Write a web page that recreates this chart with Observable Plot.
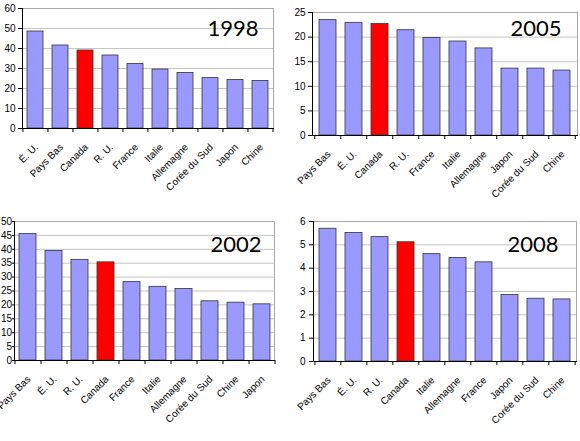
<!DOCTYPE html>
<html>
<head>
<meta charset="utf-8">
<script src="https://cdn.jsdelivr.net/npm/d3@7"></script>
<script src="https://cdn.jsdelivr.net/npm/@observablehq/plot@0.6"></script>
<style>
  html, body { margin: 0; padding: 0; background: #fff; }
  #grid { position: relative; width: 580px; height: 441px; overflow: hidden; }
  #grid > div { position: absolute; }
  svg { display: block; }
</style>
</head>
<body>
<div id="grid">
  <div id="p1998" style="left:0;top:0"></div>
  <div id="p2005" style="left:290px;top:0"></div>
  <div id="p2002" style="left:0;top:215px"></div>
  <div id="p2008" style="left:290px;top:215px"></div>
</div>
<script>
// ---- Data ----
const countries1998 = ["É. U.", "Pays Bas", "Canada", "R. U.", "France", "Italie", "Allemagne", "Corée du Sud", "Japon", "Chine"];
const values1998    = [48.5, 41.5, 39.0, 36.5, 32.3, 29.5, 27.8, 25.2, 24.3, 23.8];

const countries2005 = ["Pays Bas", "É. U.", "Canada", "R. U.", "France", "Italie", "Allemagne", "Japon", "Corée du Sud", "Chine"];
const values2005    = [23.45, 22.9, 22.65, 21.4, 19.8, 19.1, 17.7, 13.6, 13.6, 13.2];

const countries2002 = ["Pays Bas", "É. U.", "R. U.", "Canada", "France", "Italie", "Allemagne", "Corée du Sud", "Chine", "Japon"];
const values2002    = [45.5, 39.4, 36.2, 35.3, 28.2, 26.5, 25.7, 21.3, 20.8, 20.2];

const countries2008 = ["Pays Bas", "É. U.", "R. U.", "Canada", "Italie", "Allemagne", "France", "Japon", "Corée du Sud", "Chine"];
const values2008    = [5.69, 5.51, 5.33, 5.11, 4.6, 4.44, 4.25, 2.85, 2.69, 2.66];

const yTicks1998 = [0, 10, 20, 30, 40, 50, 60];
const yTicks2005 = [0, 5, 10, 15, 20, 25];
const yTicks2002 = [0, 5, 10, 15, 20, 25, 30, 35, 40, 45, 50];
const yTicks2008 = [0, 1, 2, 3, 4, 5, 6];

const highlight = "Canada";

// Panel geometry (pixels), one entry per small chart.
const panels = [
  { id: "p1998", year: "1998", countries: countries1998, values: values1998, ticks: yTicks1998,
    width: 290, height: 215, ml: 22, mr: 17, mt: 8, mb: 87, tdx: -15, tdy: 20, ts: 4, tp: 3 },
  { id: "p2005", year: "2005", countries: countries2005, values: values2005, ticks: yTicks2005,
    width: 290, height: 215, ml: 22, mr: 3, mt: 12, mb: 80, tdx: -16, tdy: 16, ts: 4, tp: 3 },
  { id: "p2002", year: "2002", countries: countries2002, values: values2002, ticks: yTicks2002,
    width: 290, height: 226, ml: 14, mr: 16, mt: 6, mb: 81, tdx: -13, tdy: 23, ts: 2, tp: 0.5 },
  { id: "p2008", year: "2008", countries: countries2008, values: values2008, ticks: yTicks2008,
    width: 290, height: 226, ml: 23, mr: 4, mt: 6, mb: 80, tdx: -18, tdy: 23, ts: 4, tp: 4 },
];

panels.forEach(function (p) {
  const rows = p.countries.map(function (c, i) { return { country: c, value: p.values[i] }; });
  const yMax = p.ticks[p.ticks.length - 1];
  const step = (p.width - p.ml - p.mr) / p.countries.length;
  const last = p.countries[p.countries.length - 1];

  const svg = Plot.plot({
    width: p.width,
    height: p.height,
    marginLeft: p.ml,
    marginRight: p.mr,
    marginTop: p.mt,
    marginBottom: p.mb,
    style: { fontFamily: "Liberation Sans, Arial, sans-serif", fontSize: 10, color: "#000", background: "#fff", overflow: "visible" },
    x: { domain: p.countries, paddingInner: 0.36, paddingOuter: 0.18, label: null },
    y: { domain: [0, yMax], label: null },
    marks: [
      Plot.gridY(p.ticks, { stroke: "#c4c4c4", strokeOpacity: 1 }),
      Plot.frame({ stroke: "#a8a8a8" }),
      Plot.barY(rows, {
        x: "country",
        y: "value",
        fill: function (d) { return d.country === highlight ? "#ff0000" : "#9999ff"; },
        stroke: "#333",
        strokeWidth: 0.8,
      }),
      Plot.frame({ anchor: "left", stroke: "#000" }),
      Plot.frame({ anchor: "bottom", stroke: "#000" }),
      // y ticks and labels
      Plot.axisY(p.ticks, { tickSize: p.ts, tickPadding: p.tp, fontSize: 10, label: null }),
      // category boundary ticks below the axis
      Plot.axisX(p.countries, { tickSize: 4, text: null, dx: -step / 2, label: null }),
      Plot.axisX([last], { tickSize: 4, text: null, dx: step / 2, label: null }),
      // rotated category labels
      Plot.axisX(p.countries, { tickSize: 0, tickPadding: 17, tickRotate: -45, fontSize: 10, label: null, dx: 1 }),
      // year title
      Plot.text([p.year], {
        frameAnchor: "top-right",
        text: function (d) { return d; },
        textAnchor: "end",
        lineAnchor: "middle",
        dx: p.tdx,
        dy: p.tdy,
        fontSize: 22,
        fontFamily: "Lato, Open Sans, sans-serif",
        fill: "#000",
      }),
    ],
  });
  document.getElementById(p.id).appendChild(svg);
});
</script>
</body>
</html>
